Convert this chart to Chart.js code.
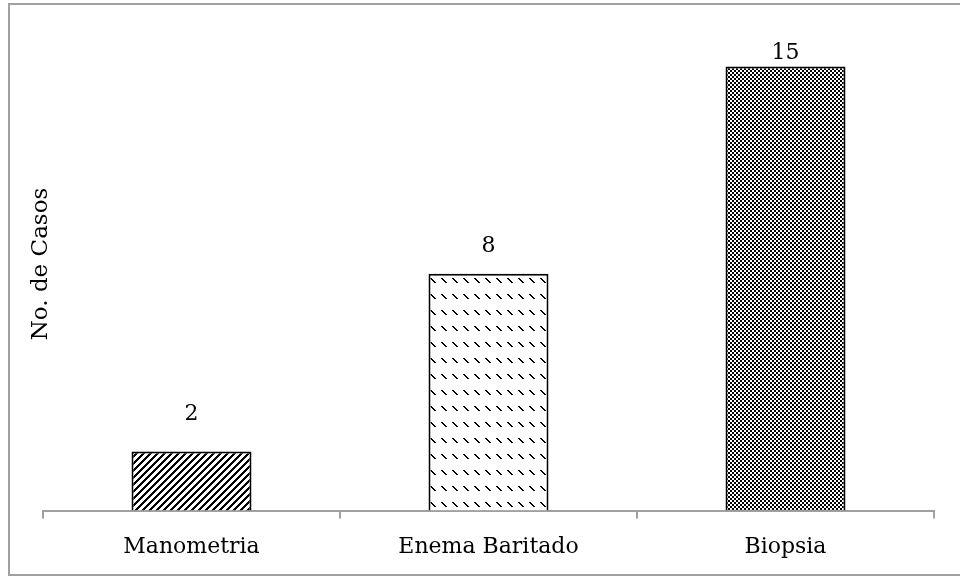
<!DOCTYPE html>
<html>
<head>
<meta charset="utf-8">
<script src="https://cdn.jsdelivr.net/npm/chart.js@4.4.1/dist/chart.umd.min.js"></script>
<style>
  html, body { margin: 0; padding: 0; background: #ffffff; overflow: hidden; }
  #wrap { position: relative; width: 960px; height: 579px; }
  #frame { position: absolute; left: 8px; top: 3px; width: 980px; height: 573px; border: 2px solid #a0a0a0; box-sizing: border-box; pointer-events: none; }
  canvas { position: absolute; left: 0; top: 0; }
</style>
</head>
<body>
<div id="wrap">
  <canvas id="c" width="960" height="579"></canvas>
  <div id="frame"></div>
</div>
<script>
const categories = ["Manometria", "Enema Baritado", "Biopsia"];
const casos = [2, 8, 15];
const yTitle = "No. de Casos";

function makeTile(w, h, draw) {
  const t = document.createElement('canvas');
  t.width = w; t.height = h;
  const g = t.getContext('2d');
  g.fillStyle = '#ffffff';
  g.fillRect(0, 0, w, h);
  g.fillStyle = '#000000';
  draw(g, w, h);
  return document.getElementById('c').getContext('2d').createPattern(t, 'repeat');
}

// diagonal stripes "/"
const stripes = makeTile(7, 7, (g, w, h) => {
  for (let y = 0; y < h; y++) {
    for (let x = 0; x < w; x++) {
      if ((x + y) % 7 < 3) g.fillRect(x, y, 1, 1);
    }
  }
});
// rows of dotted "\" dashes
const dashes = makeTile(11, 16, (g) => {
  for (let i = 0; i < 5; i++) {
    g.fillRect(1 + i, 6 + i, 2, 1);
  }
});
// checkerboard
const checker = makeTile(4, 4, (g) => {
  g.fillRect(0, 0, 2, 2);
  g.fillRect(2, 2, 2, 2);
});

const valueLabels = {
  id: 'valueLabels',
  afterDatasetsDraw(chart, args, opts) {
    const ctx = chart.ctx;
    const meta = chart.getDatasetMeta(0);
    ctx.save();
    ctx.font = opts.font;
    ctx.fillStyle = '#000';
    ctx.textAlign = 'center';
    ctx.textBaseline = 'bottom';
    meta.data.forEach((bar, i) => {
      ctx.fillText(String(chart.data.datasets[0].data[i]), bar.x, bar.y - opts.gaps[i]);
    });
    ctx.restore();
  }
};

const axisTitle = {
  id: 'axisTitle',
  afterDraw(chart, args, opts) {
    const ctx = chart.ctx;
    ctx.save();
    ctx.translate(opts.x, opts.y);
    ctx.rotate(-Math.PI / 2);
    ctx.font = opts.font;
    ctx.fillStyle = '#000';
    ctx.textAlign = 'center';
    ctx.textBaseline = 'middle';
    ctx.fillText(opts.text, 0, 0);
    ctx.restore();
  }
};

new Chart(document.getElementById('c'), {
  type: 'bar',
  data: {
    labels: categories,
    datasets: [{
      data: casos,
      backgroundColor: [stripes, dashes, checker],
      borderColor: '#000000',
      borderWidth: 2,
      categoryPercentage: 1.0,
      barPercentage: 0.404
    }]
  },
  options: {
    responsive: false,
    animation: false,
    devicePixelRatio: 1,
    layout: { padding: { left: 43, right: 26, top: 37, bottom: 4 } },
    plugins: {
      legend: { display: false },
      tooltip: { enabled: false },
      valueLabels: { font: '22px "DejaVu Serif"', gaps: [26, 17, 2] },
      axisTitle: { text: yTitle, x: 41, y: 264, font: '23px "DejaVu Serif"' }
    },
    scales: {
      x: {
        offset: true,
        grid: { display: true, offset: true, drawOnChartArea: false, drawTicks: true, tickLength: 8, color: '#a0a0a0', lineWidth: 2 },
        border: { display: true, color: '#a0a0a0', width: 2 },
        ticks: { color: '#000', font: { family: 'DejaVu Serif', size: 22 }, padding: 15 }
      },
      y: {
        display: false,
        min: 0, max: 16
      }
    }
  },
  plugins: [valueLabels, axisTitle]
});
</script>
</body>
</html>
